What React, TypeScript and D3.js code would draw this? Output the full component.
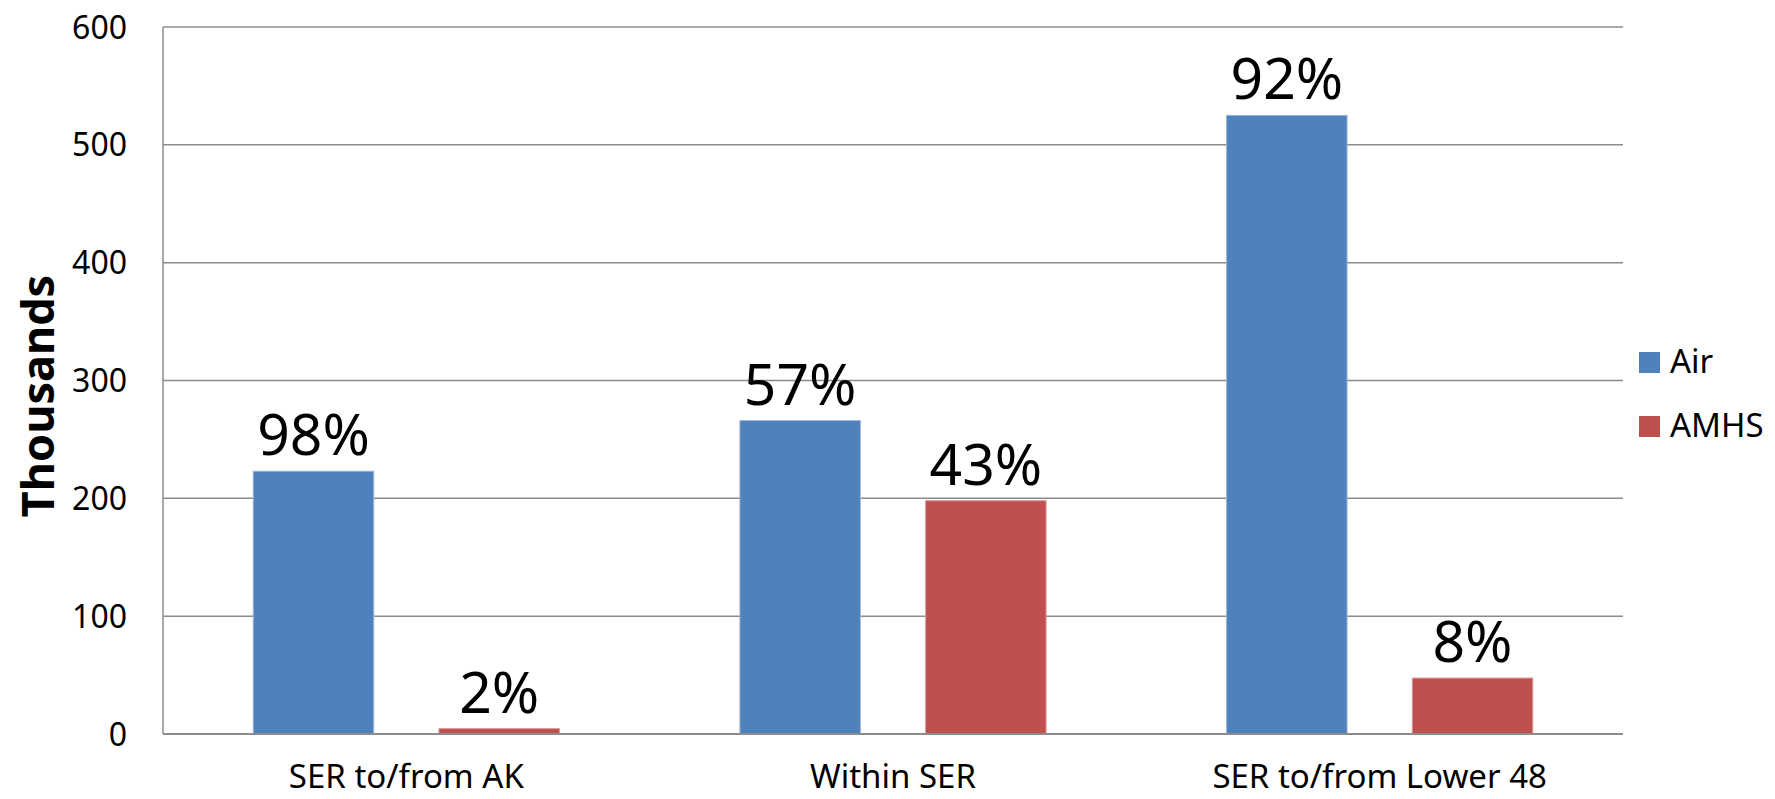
import React from "react";
import * as d3 from "d3";

const categories = ["SER to/from AK", "Within SER", "SER to/from Lower 48"];
const seriesNames = ["Air", "AMHS"];
const airValues = [223, 266, 525];
const amhsValues = [4.6, 198, 47.5];
const airLabels = ["98%", "57%", "92%"];
const amhsLabels = ["2%", "43%", "8%"];
const yTicks = [0, 100, 200, 300, 400, 500, 600];
const colors = ["#4F81BD", "#C0504D"];
const strokeColors = ["#9DB6DA", "#DE9C9A"];

const W = 1775;
const H = 799;
const plot = { left: 163, right: 1623, top: 27, bottom: 734 };
const FONT = "'Noto Sans', 'Open Sans', sans-serif";

export default function App() {
  const y = d3.scaleLinear().domain([0, 600]).range([plot.bottom, plot.top]);
  const x0 = d3.scaleBand<string>().domain(categories).range([plot.left, plot.right]).paddingInner(0).paddingOuter(0);
  const x1 = d3
    .scaleBand<string>()
    .domain(seriesNames)
    .range([0, x0.bandwidth()])
    .paddingInner(0.351)
    .paddingOuter(0.486);

  const series = [
    { name: "Air", values: airValues, labels: airLabels },
    { name: "AMHS", values: amhsValues, labels: amhsLabels },
  ];

  return (
    <svg
      width={W}
      height={H}
      style={{ position: "absolute", left: 0, top: 0, display: "block", background: "#fff" }}
      fontFamily={FONT}
    >
      {yTicks.map((t) => (
        <line
          key={"g" + t}
          x1={plot.left}
          x2={plot.right}
          y1={y(t)}
          y2={y(t)}
          stroke="#8C8C8C"
          strokeWidth={1.5}
        />
      ))}
      <line x1={plot.left} x2={plot.left} y1={plot.top} y2={plot.bottom} stroke="#8C8C8C" strokeWidth={1.5} />
      {yTicks.map((t) => (
        <text key={"t" + t} x={127} y={y(t) + 11.5} textAnchor="end" fontSize={32} fill="#000">
          {t}
        </text>
      ))}
      <text
        transform={`translate(${54},${396}) rotate(-90)`}
        textAnchor="middle"
        fontSize={45}
        fontWeight="bold"
        fill="#000"
      >
        Thousands
      </text>
      {series.map((s, si) =>
        categories.map((c, ci) => {
          const bx = (x0(c) ?? 0) + (x1(s.name) ?? 0);
          const by = y(s.values[ci]);
          return (
            <g key={s.name + c}>
              <rect
                x={bx}
                y={by}
                width={x1.bandwidth()}
                height={plot.bottom - by}
                fill={colors[si]}
                stroke={strokeColors[si]}
                strokeWidth={1}
              />
              <text
                x={bx + x1.bandwidth() / 2}
                y={by - 16}
                textAnchor="middle"
                fontSize={57}
                fill="#000"
              >
                {s.labels[ci]}
              </text>
            </g>
          );
        })
      )}
      <line x1={plot.left} x2={plot.right} y1={plot.bottom} y2={plot.bottom} stroke="#8C8C8C" strokeWidth={2} />
      {categories.map((c) => (
        <text
          key={"c" + c}
          x={(x0(c) ?? 0) + x0.bandwidth() / 2}
          y={788}
          textAnchor="middle"
          fontSize={33}
          fill="#000"
        >
          {c}
        </text>
      ))}
      {seriesNames.map((n, i) => (
        <g key={"l" + n} transform={`translate(1639,${352 + i * 64})`}>
          <rect x={0} y={0} width={21} height={21} fill={colors[i]} />
          <text x={31} y={21} fontSize={33} fill="#000">
            {n}
          </text>
        </g>
      ))}
    </svg>
  );
}
